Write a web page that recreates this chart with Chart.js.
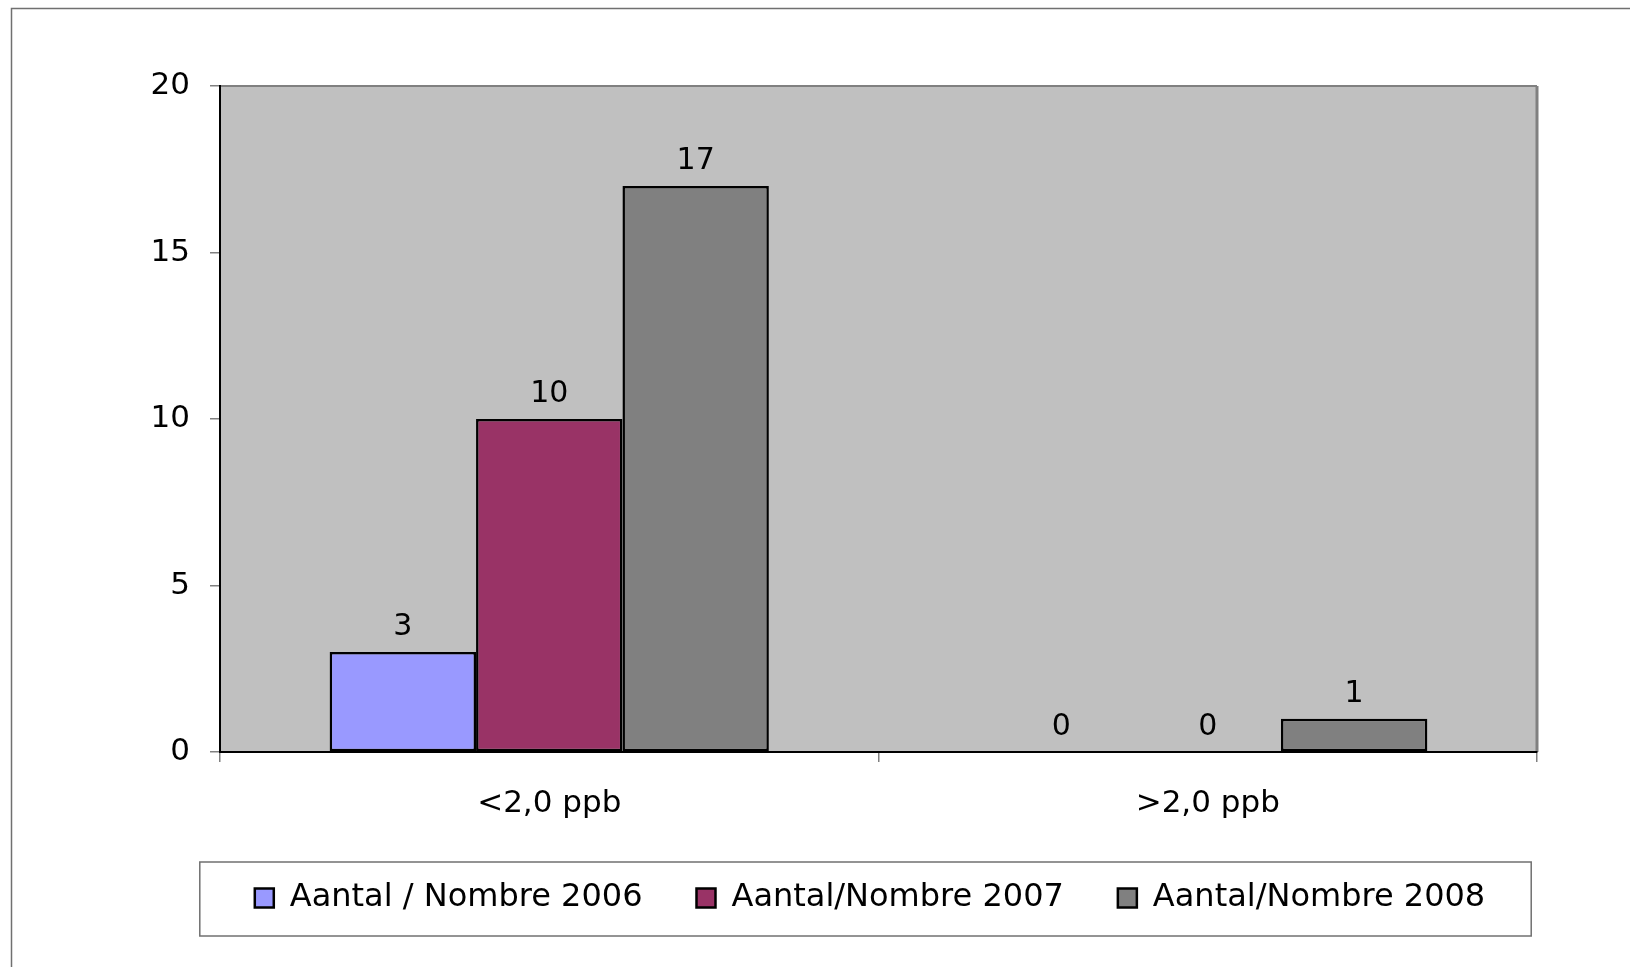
<!DOCTYPE html>
<html>
<head>
<meta charset="utf-8">
<title>Aantal / Nombre</title>
<script src="https://cdn.jsdelivr.net/npm/chart.js@4/dist/chart.umd.min.js"></script>
<style>
    html, body { margin: 0; padding: 0; background: #fff; }
    canvas { display: block; }
</style>
</head>
<body>
<canvas id="ppbChart" width="1630" height="967"></canvas>
<script>
// categories and series
const categories = ['<2,0 ppb', '>2,0 ppb'];
const seriesLabels = ['Aantal / Nombre 2006', 'Aantal/Nombre 2007', 'Aantal/Nombre 2008'];
const values2006 = [3, 0];
const values2007 = [10, 0];
const values2008 = [17, 1];
const yTicks = [0, 5, 10, 15, 20];

const seriesColors = ['#9999FF', '#993366', '#808080'];
const fontFamily = '"DejaVu Sans", Verdana, sans-serif';

// grey plot area with its frame, and the thin outer chart frame
const backdrop = {
    id: 'backdrop',
    beforeDraw(chart) {
        const { ctx, chartArea: a } = chart;
        ctx.save();
        ctx.fillStyle = '#C0C0C0';
        ctx.fillRect(a.left, a.top, a.right - a.left, a.bottom - a.top);
        ctx.strokeStyle = '#808080';
        ctx.lineWidth = 2;
        ctx.beginPath();
        ctx.moveTo(a.left, a.top);
        ctx.lineTo(a.right, a.top);
        ctx.stroke();
        ctx.lineWidth = 3;
        ctx.beginPath();
        ctx.moveTo(a.right, a.top);
        ctx.lineTo(a.right, a.bottom);
        ctx.stroke();
        // outer frame
        ctx.strokeStyle = '#707070';
        ctx.lineWidth = 1.5;
        ctx.beginPath();
        ctx.moveTo(11.5, chart.height);
        ctx.lineTo(11.5, 8.5);
        ctx.lineTo(chart.width, 8.5);
        ctx.stroke();
        ctx.restore();
    }
};

// value labels above each bar
const valueLabels = {
    id: 'valueLabels',
    afterDatasetsDraw(chart) {
        const { ctx } = chart;
        ctx.save();
        ctx.font = '30px ' + fontFamily;
        ctx.fillStyle = '#000';
        ctx.textAlign = 'center';
        ctx.textBaseline = 'alphabetic';
        chart.data.datasets.forEach((ds, i) => {
            chart.getDatasetMeta(i).data.forEach((bar, j) => {
                ctx.fillText(String(ds.data[j]), bar.x, bar.y - 17);
            });
        });
        ctx.restore();
    }
};

// box round the legend
const legendFrame = {
    id: 'legendFrame',
    afterDraw(chart) {
        const boxes = chart.legend.legendHitBoxes;
        if (!boxes || !boxes.length) return;
        const left = Math.min(...boxes.map(b => b.left));
        const right = Math.max(...boxes.map(b => b.left + b.width));
        const mid = boxes[0].top + boxes[0].height / 2;
        const { ctx } = chart;
        ctx.save();
        ctx.strokeStyle = '#707070';
        ctx.lineWidth = 1.5;
        ctx.strokeRect(left - 55, mid - 36, (right + 46) - (left - 55), 74);
        ctx.restore();
    }
};

const ctx = document.getElementById('ppbChart').getContext('2d');
new Chart(ctx, {
    type: 'bar',
    data: {
        labels: categories,
        datasets: [
            { label: seriesLabels[0], data: values2006, backgroundColor: seriesColors[0] },
            { label: seriesLabels[1], data: values2007, backgroundColor: seriesColors[1] },
            { label: seriesLabels[2], data: values2008, backgroundColor: seriesColors[2] }
        ].map(ds => Object.assign(ds, { borderColor: '#000', borderWidth: 2.5, borderSkipped: false }))
    },
    options: {
        responsive: false,
        animation: false,
        devicePixelRatio: 1,
        categoryPercentage: 0.667,
        barPercentage: 1.0,
        layout: { padding: { top: 86, left: 110, right: 0, bottom: 43 } },
        scales: {
            x: {
                offset: true,
                grid: {
                    display: true,
                    offset: true,
                    drawOnChartArea: false,
                    tickLength: 10,
                    color: '#808080',
                    lineWidth: 1.5
                },
                border: { display: true, color: '#000', width: 2 },
                ticks: {
                    color: '#000',
                    padding: 23,
                    font: { family: fontFamily, size: 31 }
                },
                afterFit(scale) { scale.height = 76; }
            },
            y: {
                min: 0,
                max: 20,
                afterBuildTicks(scale) { scale.ticks = yTicks.map(v => ({ value: v })); },
                grid: {
                    display: true,
                    drawOnChartArea: false,
                    tickLength: 10,
                    color: '#808080',
                    lineWidth: 1.5
                },
                border: { display: true, color: '#000', width: 2 },
                ticks: {
                    color: '#000',
                    padding: 20,
                    font: { family: fontFamily, size: 31 }
                },
                afterFit(scale) { scale.width = 110; }
            },
            spacer: {
                position: 'right',
                display: true,
                grid: { display: false },
                border: { display: false },
                ticks: { display: false },
                afterFit(scale) { scale.width = 93; }
            }
        },
        plugins: {
            legend: {
                position: 'bottom',
                labels: {
                    color: '#000',
                    boxWidth: 19,
                    boxHeight: 19,
                    padding: 54,
                    font: { family: fontFamily, size: 32 }
                }
            },
            tooltip: { enabled: false }
        }
    },
    plugins: [backdrop, valueLabels, legendFrame]
});
</script>
</body>
</html>
